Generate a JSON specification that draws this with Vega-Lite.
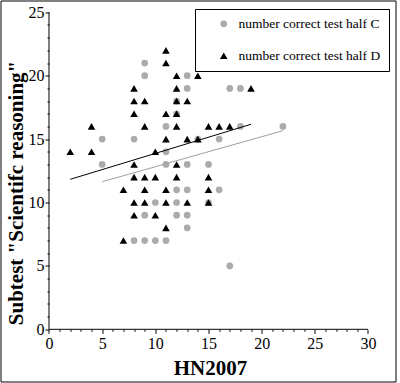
{
  "$schema": "https://vega.github.io/schema/vega-lite/v6.json",
  "width": 395,
  "height": 381,
  "autosize": {"type": "none"},
  "padding": {"left": 0.5, "top": 0.5, "right": 4.5, "bottom": 1.5},
  "background": "white",
  "config": {
    "view": {"stroke": "black", "strokeWidth": 1},
    "font": "Liberation Serif"
  },
  "datasets": {
    "axes": [
      {"hn": 0, "hn2": 30, "score": 0, "score2": 0},
      {"hn": 0, "hn2": 0, "score": 0, "score2": 25}
    ],
    "points": [
      {"hn": 9, "score": 21, "series": "number correct test half C"},
      {"hn": 9, "score": 20, "series": "number correct test half C"},
      {"hn": 13, "score": 20, "series": "number correct test half C"},
      {"hn": 13, "score": 19, "series": "number correct test half C"},
      {"hn": 17, "score": 19, "series": "number correct test half C"},
      {"hn": 18, "score": 19, "series": "number correct test half C"},
      {"hn": 12, "score": 18, "series": "number correct test half C"},
      {"hn": 12, "score": 17, "series": "number correct test half C"},
      {"hn": 11, "score": 16, "series": "number correct test half C"},
      {"hn": 18, "score": 16, "series": "number correct test half C"},
      {"hn": 22, "score": 16, "series": "number correct test half C"},
      {"hn": 5, "score": 15, "series": "number correct test half C"},
      {"hn": 8, "score": 15, "series": "number correct test half C"},
      {"hn": 14, "score": 15, "series": "number correct test half C"},
      {"hn": 16, "score": 15, "series": "number correct test half C"},
      {"hn": 11, "score": 14, "series": "number correct test half C"},
      {"hn": 5, "score": 13, "series": "number correct test half C"},
      {"hn": 11, "score": 13, "series": "number correct test half C"},
      {"hn": 13, "score": 13, "series": "number correct test half C"},
      {"hn": 15, "score": 13, "series": "number correct test half C"},
      {"hn": 12, "score": 11, "series": "number correct test half C"},
      {"hn": 13, "score": 11, "series": "number correct test half C"},
      {"hn": 16, "score": 11, "series": "number correct test half C"},
      {"hn": 10, "score": 10, "series": "number correct test half C"},
      {"hn": 12, "score": 10, "series": "number correct test half C"},
      {"hn": 15, "score": 10, "series": "number correct test half C"},
      {"hn": 9, "score": 9, "series": "number correct test half C"},
      {"hn": 12, "score": 9, "series": "number correct test half C"},
      {"hn": 13, "score": 9, "series": "number correct test half C"},
      {"hn": 13, "score": 8, "series": "number correct test half C"},
      {"hn": 8, "score": 7, "series": "number correct test half C"},
      {"hn": 9, "score": 7, "series": "number correct test half C"},
      {"hn": 10, "score": 7, "series": "number correct test half C"},
      {"hn": 11, "score": 7, "series": "number correct test half C"},
      {"hn": 17, "score": 5, "series": "number correct test half C"},
      {"hn": 11, "score": 22, "series": "number correct test half D"},
      {"hn": 11, "score": 21, "series": "number correct test half D"},
      {"hn": 12, "score": 20, "series": "number correct test half D"},
      {"hn": 14, "score": 20, "series": "number correct test half D"},
      {"hn": 8, "score": 19, "series": "number correct test half D"},
      {"hn": 12, "score": 19, "series": "number correct test half D"},
      {"hn": 19, "score": 19, "series": "number correct test half D"},
      {"hn": 8, "score": 18, "series": "number correct test half D"},
      {"hn": 9, "score": 18, "series": "number correct test half D"},
      {"hn": 12, "score": 18, "series": "number correct test half D"},
      {"hn": 13, "score": 18, "series": "number correct test half D"},
      {"hn": 8, "score": 17, "series": "number correct test half D"},
      {"hn": 11, "score": 17, "series": "number correct test half D"},
      {"hn": 12, "score": 17, "series": "number correct test half D"},
      {"hn": 4, "score": 16, "series": "number correct test half D"},
      {"hn": 9, "score": 16, "series": "number correct test half D"},
      {"hn": 12, "score": 16, "series": "number correct test half D"},
      {"hn": 15, "score": 16, "series": "number correct test half D"},
      {"hn": 16, "score": 16, "series": "number correct test half D"},
      {"hn": 17, "score": 16, "series": "number correct test half D"},
      {"hn": 11, "score": 15, "series": "number correct test half D"},
      {"hn": 13, "score": 15, "series": "number correct test half D"},
      {"hn": 14, "score": 15, "series": "number correct test half D"},
      {"hn": 2, "score": 14, "series": "number correct test half D"},
      {"hn": 4, "score": 14, "series": "number correct test half D"},
      {"hn": 10, "score": 14, "series": "number correct test half D"},
      {"hn": 8, "score": 13, "series": "number correct test half D"},
      {"hn": 12, "score": 13, "series": "number correct test half D"},
      {"hn": 8, "score": 12, "series": "number correct test half D"},
      {"hn": 9, "score": 12, "series": "number correct test half D"},
      {"hn": 10, "score": 12, "series": "number correct test half D"},
      {"hn": 12, "score": 12, "series": "number correct test half D"},
      {"hn": 15, "score": 12, "series": "number correct test half D"},
      {"hn": 7, "score": 11, "series": "number correct test half D"},
      {"hn": 9, "score": 11, "series": "number correct test half D"},
      {"hn": 11, "score": 11, "series": "number correct test half D"},
      {"hn": 15, "score": 11, "series": "number correct test half D"},
      {"hn": 8, "score": 10, "series": "number correct test half D"},
      {"hn": 9, "score": 10, "series": "number correct test half D"},
      {"hn": 11, "score": 10, "series": "number correct test half D"},
      {"hn": 13, "score": 10, "series": "number correct test half D"},
      {"hn": 15, "score": 10, "series": "number correct test half D"},
      {"hn": 8, "score": 9, "series": "number correct test half D"},
      {"hn": 10, "score": 9, "series": "number correct test half D"},
      {"hn": 11, "score": 8, "series": "number correct test half D"},
      {"hn": 7, "score": 7, "series": "number correct test half D"}
    ],
    "lines": [
      {"hn": 5, "score": 11.64, "series": "C"},
      {"hn": 22, "score": 15.66, "series": "C"},
      {"hn": 2, "score": 11.83, "series": "D"},
      {"hn": 19, "score": 16.17, "series": "D"}
    ]
  },
  "encoding": {
    "x": {
      "field": "hn",
      "type": "quantitative",
      "scale": {"domain": [-4.561, 32.587], "nice": false, "zero": false},
      "axis": {
        "values": [0,1,2,3,4,5,6,7,8,9,10,11,12,13,14,15,16,17,18,19,20,21,22,23,24,25,26,27,28,29,30],
        "offset": -52.2,
        "domain": false,
        "grid": false,
        "tickColor": "black",
        "tickWidth": 1,
        "tickSize": {"condition": {"test": "datum.value % 5 === 0", "value": 4}, "value": 2},
        "labelExpr": "datum.value % 5 === 0 ? datum.label : ''",
        "labelFont": "Liberation Serif",
        "labelFontSize": 16,
        "labelColor": "black",
        "labelPadding": 2,
        "labelOverlap": false,
        "title": "HN2007",
        "titleFont": "Liberation Serif",
        "titleFontSize": 21,
        "titleFontWeight": "bold",
        "titleColor": "black",
        "titleX": 209.5,
        "titleY": 45,
        "titleBaseline": "alphabetic",
        "titleAnchor": null
      }
    },
    "y": {
      "field": "score",
      "type": "quantitative",
      "scale": {"domain": [-4.117, 25.931], "nice": false, "zero": false},
      "axis": {
        "values": [0,1,2,3,4,5,6,7,8,9,10,11,12,13,14,15,16,17,18,19,20,21,22,23,24,25],
        "offset": -48.5,
        "domain": false,
        "grid": false,
        "tickColor": "black",
        "tickWidth": 1,
        "tickSize": {"condition": {"test": "datum.value % 5 === 0", "value": 4}, "value": 2},
        "labelExpr": "datum.value % 5 === 0 ? datum.label : ''",
        "labelFont": "Liberation Serif",
        "labelFontSize": 16,
        "labelColor": "black",
        "labelPadding": 1,
        "labelOverlap": false,
        "title": "Subtest \"Scientifc reasoning\"",
        "titleFont": "Liberation Serif",
        "titleFontSize": 21,
        "titleFontWeight": "bold",
        "titleColor": "black",
        "titleX": -27,
        "titleY": 192,
        "titleAngle": -90,
        "titleBaseline": "alphabetic",
        "titleAlign": "center"
      }
    }
  },
  "layer": [
    {
      "data": {"name": "axes"},
      "mark": {"type": "rule", "color": "black", "strokeWidth": 1},
      "encoding": {
        "x2": {"field": "hn2"},
        "y2": {"field": "score2"}
      }
    },
    {
      "data": {"name": "points"},
      "mark": {"type": "point", "filled": true, "opacity": 1, "strokeWidth": 0},
      "encoding": {
        "size": {
          "field": "series",
          "type": "nominal",
          "scale": {"domain": ["number correct test half C", "number correct test half D"], "range": [45, 58]},
          "legend": null
        },
        "color": {
          "field": "series",
          "type": "nominal",
          "scale": {"domain": ["number correct test half C", "number correct test half D"], "range": ["#ababab", "#000000"]},
          "legend": {
            "orient": "none",
            "legendX": 194.5,
            "legendY": 8.5,
            "title": null,
            "strokeColor": "black",
            "fillColor": "white",
            "padding": 8,
            "symbolOffset": 14,
            "labelOffset": 8,
            "rowPadding": 17,
            "labelFont": "Liberation Serif",
            "labelFontSize": 13.5,
            "labelColor": "black",
            "symbolSize": 50,
            "labelLimit": 300
          }
        },
        "shape": {
          "field": "series",
          "type": "nominal",
          "scale": {"domain": ["number correct test half C", "number correct test half D"], "range": ["circle", "triangle-up"]},
          "legend": {
            "orient": "none",
            "legendX": 194.5,
            "legendY": 8.5,
            "title": null,
            "strokeColor": "black",
            "fillColor": "white",
            "padding": 8,
            "symbolOffset": 14,
            "labelOffset": 8,
            "rowPadding": 17,
            "labelFont": "Liberation Serif",
            "labelFontSize": 13.5,
            "labelColor": "black",
            "symbolSize": 50,
            "labelLimit": 300
          }
        }
      }
    },
    {
      "data": {"name": "lines"},
      "transform": [{"filter": "datum.series === 'C'"}],
      "mark": {"type": "line", "color": "#a0a0a0", "strokeWidth": 1},
      "encoding": {}
    },
    {
      "data": {"name": "lines"},
      "transform": [{"filter": "datum.series === 'D'"}],
      "mark": {"type": "line", "color": "black", "strokeWidth": 1},
      "encoding": {}
    }
  ]
}
